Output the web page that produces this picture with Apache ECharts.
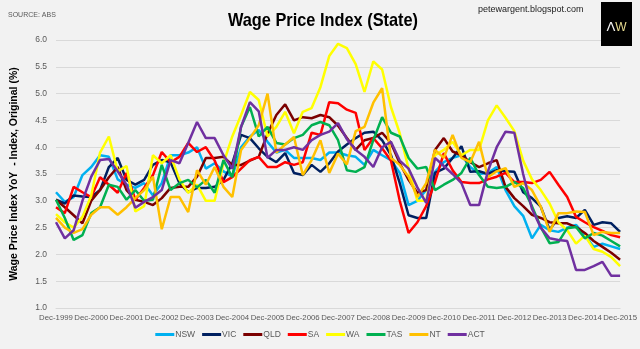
<!DOCTYPE html>
<html>
<head>
<meta charset="utf-8">
<script src="https://cdn.jsdelivr.net/npm/echarts@6/dist/echarts.min.js"></script>
<style>
html,body{margin:0;padding:0;background:#f2f2f2;}
#chart{width:640px;height:349px;}
</style>
</head>
<body>
<div id="chart"></div>
<script>
var categories = [
"Dec-1999","Mar-2000","Jun-2000","Sep-2000","Dec-2000","Mar-2001","Jun-2001","Sep-2001",
"Dec-2001","Mar-2002","Jun-2002","Sep-2002","Dec-2002","Mar-2003","Jun-2003","Sep-2003",
"Dec-2003","Mar-2004","Jun-2004","Sep-2004","Dec-2004","Mar-2005","Jun-2005","Sep-2005",
"Dec-2005","Mar-2006","Jun-2006","Sep-2006","Dec-2006","Mar-2007","Jun-2007","Sep-2007",
"Dec-2007","Mar-2008","Jun-2008","Sep-2008","Dec-2008","Mar-2009","Jun-2009","Sep-2009",
"Dec-2009","Mar-2010","Jun-2010","Sep-2010","Dec-2010","Mar-2011","Jun-2011","Sep-2011",
"Dec-2011","Mar-2012","Jun-2012","Sep-2012","Dec-2012","Mar-2013","Jun-2013","Sep-2013",
"Dec-2013","Mar-2014","Jun-2014","Sep-2014","Dec-2014","Mar-2015","Jun-2015","Sep-2015",
"Dec-2015"];

var NSW = [3.16,2.98,3.07,3.48,3.63,3.85,3.82,3.4,3.3,3.24, 3.33,3.1,3.33,3.85,3.85,3.9,4.0,3.6,3.7,3.55, 3.45,4.0,4.2,4.32,4.1,3.9,3.95,3.8,3.8,3.8, 3.76,3.9,3.9,3.85,3.82,3.67,3.95,3.85,3.76,3.52, 2.92,3.0,3.2,3.54,3.72,3.8,3.85,3.63,3.5,3.52, 3.63,3.2,2.9,2.72,2.3,2.55,2.45,2.42,2.5,2.55, 2.36,2.14,2.2,2.15,2.1];
var VIC = [3.02,2.95,3.1,3.08,3.07,3.2,3.63,3.8,3.39,3.3, 3.39,3.67,3.76,3.72,3.33,3.16,3.24,3.24,3.26,3.39, 3.7,4.23,4.17,3.98,3.82,3.72,3.89,3.52,3.48,3.67, 3.54,3.7,3.92,4.05,4.17,4.27,4.29,4.13,3.85,3.33, 2.73,2.68,2.68,3.52,3.6,3.8,4.02,3.54,3.55,3.5, 3.57,3.55,3.54,3.16,3.05,2.89,2.46,2.68,2.71,2.68, 2.83,2.55,2.6,2.58,2.42];
var QLD = [3.02,2.88,2.73,2.58,3.0,3.2,3.44,3.63,3.2,3.02, 2.98,2.92,3.05,3.24,3.26,3.26,3.45,3.8,3.8,3.82, 3.67,3.67,3.75,3.82,4.25,4.6,4.8,4.5,4.56,4.54, 4.6,4.56,4.4,4.17,3.95,4.13,4.17,4.27,4.08,3.7, 3.39,3.15,3.2,3.95,4.17,3.92,3.85,3.72,3.63,3.7, 3.76,3.26,3.05,2.9,2.74,2.68,2.6,2.58,2.58,2.51, 2.4,2.25,2.14,2.03,1.9];
var SA = [2.88,2.77,3.26,3.16,3.07,3.44,3.3,3.15,3.52,3.02, 3.24,3.48,3.91,3.72,3.82,4.08,3.91,4.0,3.75,3.35, 3.44,3.6,3.76,3.82,3.63,3.63,3.72,3.67,3.72,4.27, 4.23,4.84,4.82,4.7,4.64,3.95,4.17,3.98,3.75,3.0, 2.4,2.6,2.9,3.35,3.89,3.57,3.35,3.33,3.33,3.4, 3.45,3.52,3.35,3.35,3.33,3.39,3.54,3.3,3.07,2.7, 2.6,2.51,2.44,2.36,2.32];
var WA = [2.75,2.6,2.5,2.7,3.1,3.9,4.2,3.55,3.65,2.8, 2.9,3.85,3.7,3.85,3.4,3.15,3.3,3.0,3.0,3.7, 4.2,4.6,5.03,4.88,4.2,4.38,4.66,4.26,4.66,4.73, 5.12,5.7,5.93,5.85,5.55,5.03,5.6,5.45,4.75,4.26, 3.6,3.0,3.0,3.85,3.95,4.1,3.85,3.95,3.95,4.5, 4.78,4.55,4.3,3.75,3.4,3.2,2.95,2.6,2.45,2.2, 2.35,2.1,2.05,1.95,1.78];
var TAS = [3.02,2.68,2.27,2.36,2.77,2.88,3.3,3.26,3.02,3.2, 3.0,3.02,3.67,3.2,3.33,3.39,3.25,3.39,3.15,3.76, 3.44,4.38,4.75,4.2,4.38,4.08,4.05,4.17,4.23,4.41, 4.47,4.41,4.13,3.57,3.54,3.63,4.13,4.56,4.27,4.2, 3.8,3.6,3.63,3.2,3.3,3.39,3.52,3.8,3.48,3.26, 3.24,3.26,3.35,3.24,2.9,2.51,2.21,2.23,2.49,2.51, 2.3,2.4,2.35,2.25,2.15];
var NT = [2.68,2.5,2.4,2.47,2.74,2.88,2.88,2.74,2.88,3.05, 3.2,3.45,2.47,3.07,3.07,2.79,3.57,3.3,3.63,3.26, 3.07,3.95,4.17,4.41,5.0,3.9,4.05,4.19,3.48,3.76, 4.13,3.52,3.88,3.68,4.3,4.38,4.83,5.1,3.8,3.67, 3.45,3.07,3.33,3.95,3.8,4.23,3.8,3.72,4.1,3.44, 3.55,3.61,3.26,3.33,3.2,2.89,2.42,2.77,2.77,2.8, 2.79,2.36,2.42,2.4,2.4];
var ACT = [2.6,2.3,2.45,3.0,3.45,3.76,3.78,3.55,3.3,2.87, 2.98,3.07,3.2,3.76,3.7,4.08,4.47,4.17,4.17,3.85, 3.6,4.38,4.84,4.67,3.8,3.95,3.95,4.0,3.95,4.13, 4.23,4.29,4.45,4.15,3.95,3.82,3.63,4.0,4.1,3.75, 3.6,3.25,2.96,3.8,3.65,3.5,3.33,2.92,2.92,3.55, 4.0,4.29,4.27,3.5,2.85,2.5,2.3,2.27,2.25,1.71, 1.71,1.78,1.86,1.6,1.6];

var seriesNames = ["NSW","VIC","QLD","SA","WA","TAS","NT","ACT"];
var seriesData = [NSW, VIC, QLD, SA, WA, TAS, NT, ACT];
var seriesColors = ["#00b0f0","#002060","#7b0000","#ff0000","#ffff00","#00b050","#ffc000","#7030a0"];

var FONT = "'Liberation Sans','Arial',sans-serif";

var chart = echarts.init(document.getElementById('chart'), null, {renderer:'canvas'});
var series = seriesNames.map(function(n, i){
  return {
    name: n, type: 'line', data: seriesData[i], symbol: 'none',
    lineStyle: {width: 2.5, color: seriesColors[i]},
    itemStyle: {color: seriesColors[i]},
    animation: false
  };
});

chart.setOption({
  backgroundColor: '#f2f2f2',
  animation: false,
  graphic: [
    {type:'text', x: 323, y: 21, scaleX: 0.86, z: 100,
     style:{text:'Wage Price Index (State)', font:"bold 19px " + FONT, fill:'#000', align:'center', verticalAlign:'middle'}},
    {type:'text', left: 8, top: 12, z: 100, style:{text:'SOURCE: ABS', font:"7px " + FONT, fill:'#595959'}},
    {type:'text', left: 478, top: 5, z: 100, style:{text:'petewargent.blogspot.com', font:"9px " + FONT, fill:'#222'}},
    {type:'rect', z: 100, shape:{x:601, y:2, width:31, height:44}, style:{fill:'#000'}},
    {type:'text', z: 101, x: 611, y: 28, style:{text:'\u039B', font:"13px 'DejaVu Sans',sans-serif", fill:'#f2f2f2', align:'center', verticalAlign:'middle'}},
    {type:'text', z: 101, x: 621, y: 28, style:{text:'W', font:"12px " + FONT, fill:'#e8dc90', align:'center', verticalAlign:'middle'}}
  ],
  legend: {
    bottom: 5, left: 'center', icon: 'rect', itemWidth: 19, itemHeight: 3, itemGap: 7,
    textStyle: {fontFamily: FONT, fontSize: 8.5, color: '#595959', padding: [0,0,0,-4]},
    data: seriesNames
  },
  grid: {left: 56, right: 18, top: 40, bottom: 41, containLabel: false},
  xAxis: {
    type: 'category', data: categories, boundaryGap: false,
    axisLine: {lineStyle: {color: '#d9d9d9'}},
    axisTick: {show: false},
    axisLabel: {interval: 3, fontFamily: FONT, fontSize: 7.8, color: '#595959', margin: 6,
      showMinLabel: true, showMaxLabel: true, hideOverlap: false},
    splitLine: {show: false}
  },
  yAxis: {
    type: 'value', min: 1, max: 6, interval: 0.5,
    name: 'Wage Price Index YoY  - Index, Original (%)',
    nameLocation: 'middle', nameGap: 36,
    nameTextStyle: {fontFamily: FONT, fontSize: 10.5, fontWeight: 'bold', color: '#000'},
    axisLine: {show: false}, axisTick: {show: false},
    axisLabel: {fontFamily: FONT, fontSize: 8.5, color: '#595959', margin: 9,
      formatter: function(v){ return v.toFixed(1); }},
    splitLine: {lineStyle: {color: '#d9d9d9', width: 1}}
  },
  series: series
});
</script>
</body>
</html>
